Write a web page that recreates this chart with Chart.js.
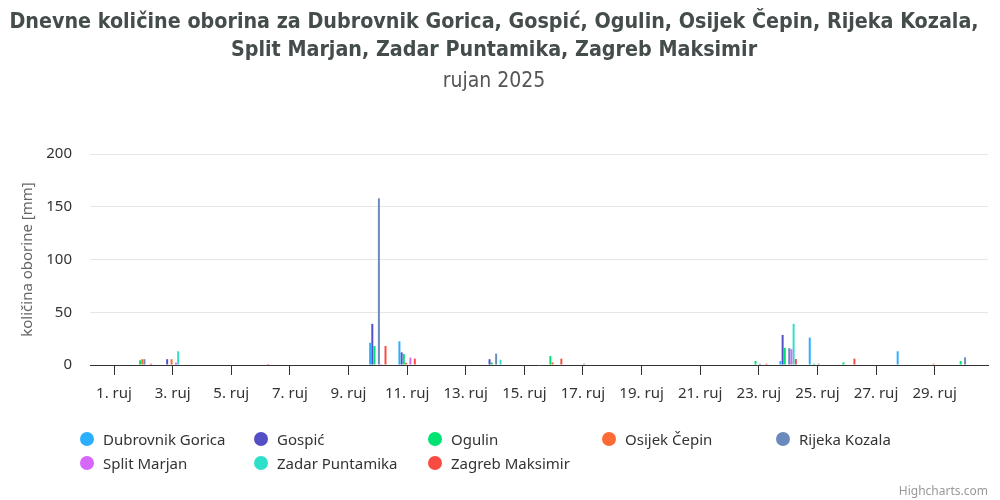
<!DOCTYPE html>
<html>
<head>
<meta charset="utf-8">
<title>Dnevne količine oborina - rujan 2025</title>
<script src="https://cdn.jsdelivr.net/npm/chart.js@4.4.1/dist/chart.umd.min.js"></script>
<style>
body { margin: 0; background: #fff; }
#wrap { position: relative; width: 1000px; height: 500px; }
#legend {
    position: absolute; left: 80px; top: 430px;
    display: grid; grid-template-columns: repeat(5, 174px); row-gap: 6px;
    font: 15px "Noto Sans", sans-serif; color: #333;
}
.item { display: flex; align-items: center; height: 18px; white-space: nowrap; }
.dot { width: 14px; height: 14px; border-radius: 50%; margin-right: 9px; flex: none; }
#credits { position: absolute; right: 12px; top: 482px; font: 12px "Noto Sans", sans-serif; color: #999; }
</style>
</head>
<body>
<div id="wrap">
    <canvas id="myChart" width="1000" height="500"></canvas>
    <div id="legend"></div>
    <div id="credits">Highcharts.com</div>
</div>
<script>
// dani u rujnu 2025
var days = [1, 2, 3, 4, 5, 6, 7, 8, 9, 10, 11, 12, 13, 14, 15, 16, 17, 18, 19, 20, 21, 22, 23, 24, 25, 26, 27, 28, 29, 30]
var tickDays = [1, 3, 5, 7, 9, 11, 13, 15, 17, 19, 21, 23, 25, 27, 29]
var monthShort = "ruj"

var stations = ["Dubrovnik Gorica", "Gospić", "Ogulin", "Osijek Čepin", "Rijeka Kozala", "Split Marjan", "Zadar Puntamika", "Zagreb Maksimir"]
var colors = ["#2caffe", "#544fc5", "#00e272", "#fe6a35", "#6b8abc", "#d568fb", "#2ee0ca", "#fa4b42"]

// oborina [mm] po danima
var dubrovnikGorica = [0, 0, 0, 0, 0, 0, 0, 0, 0, 21, 22.5, 0, 0, 0, 0, 0, 0, 0, 0, 0, 0, 0, 0, 3.8, 26, 0, 0, 13, 0, 0]
var gospic = [0, 0, 5.5, 0, 0, 0, 0, 0, 0, 39, 12, 0, 0, 5.5, 0, 0, 0, 0, 0, 0, 0, 0, 0, 28.5, 0, 0, 0, 0, 0, 0]
var ogulin = [0, 4.5, 0, 0, 0, 0, 0, 0, 0, 18, 10.5, 0, 0, 2.5, 0, 8.5, 0, 0, 0, 0, 0, 0, 3.8, 16.3, 1.2, 2.5, 0, 0, 0, 3.8]
var osijekCepin = [0, 5.5, 5.5, 0, 0, 0, 0, 0, 0, 0, 2.2, 0, 0, 0, 0, 2.5, 0, 0, 0, 0, 0, 0, 0, 0, 0, 0, 0, 0, 1.2, 0]
var rijekaKozala = [0, 5.5, 0, 0, 0, 0, 0, 0, 0, 158, 0, 0, 0, 10.7, 0, 0, 1.2, 0, 0, 0, 0, 0, 1.2, 16, 1.2, 0, 0, 0, 0, 7.2]
var splitMarjan = [0, 0, 2.2, 0, 0, 0, 0, 0, 0, 0.8, 7, 0, 0, 0, 0, 0, 0, 0, 0, 0, 0, 0, 0, 15, 0, 0, 0, 0, 0, 0]
var zadarPuntamika = [0, 0, 13, 0, 0, 0, 0, 0, 0, 0, 0, 0, 0, 5, 0, 0, 0, 0, 0, 0, 0, 0, 0, 39, 0, 0, 0, 0, 0, 0]
var zagrebMaksimir = [0, 1.2, 0, 0, 0, 1, 0, 0, 0, 18, 6, 0, 0, 0, 0, 6, 0, 0, 0, 0, 0, 0, 1.2, 5.7, 0, 6, 0, 0, 0, 0]

var series = [dubrovnikGorica, gospic, ogulin, osijekCepin, rijekaKozala, splitMarjan, zadarPuntamika, zagrebMaksimir]

var labelFont = '"Noto Sans", sans-serif'
var titleFont = '"Liberation Sans Narrow", "DejaVu Sans Condensed", sans-serif'

var datasets = []
for (var i = 0; i < stations.length; i++) {
    var vals = series[i]
    datasets.push({
        label: stations[i],
        data: days.map(function (d, j) { return { x: d, y: vals[j] } }),
        backgroundColor: colors[i],
        borderWidth: 0,
        categoryPercentage: 0.6,
        barPercentage: 0.9,
    })
}

var chartCtx = document.getElementById('myChart')
var myChart = new Chart(chartCtx, {
    type: "bar",
    data: { datasets: datasets },
    options: {
        responsive: false,
        animation: false,
        layout: { padding: { left: 0, right: 12, top: 0, bottom: 87 } },
        plugins: {
            legend: { display: false },
            tooltip: { enabled: false },
            title: {
                display: true,
                text: [
                    "Dnevne količine oborina za Dubrovnik Gorica, Gospić, Ogulin, Osijek Čepin, Rijeka Kozala,",
                    "Split Marjan, Zadar Puntamika, Zagreb Maksimir"
                ],
                color: "#444c4c",
                font: { family: titleFont, size: 21.3, weight: "bold", lineHeight: 1.315 },
                padding: { top: 8, bottom: 5.4 },
            },
            subtitle: {
                display: true,
                text: "rujan 2025",
                color: "#555",
                font: { family: titleFont, size: 21, lineHeight: 1.2 },
                padding: { top: 0, bottom: 59.4 },
            },
        },
        scales: {
            x: {
                type: "linear",
                min: 0.18,
                max: 30.82,
                bounds: "data",
                offset: false,
                afterBuildTicks: function (axis) {
                    axis.ticks = tickDays.map(function (d) { return { value: d } })
                },
                ticks: {
                    autoSkip: false,
                    maxRotation: 0,
                    padding: 10,
                    color: "#333",
                    font: { family: labelFont, size: 15 },
                    callback: function (value) { return value + ". " + monthShort },
                },
                grid: { offset: false, drawOnChartArea: false, drawTicks: true, tickLength: 10, color: "#333" },
                border: { display: true, color: "#333", width: 1 },
            },
            y: {
                min: 0,
                max: 200,
                afterFit: function (scale) { scale.width = 90 },
                ticks: {
                    stepSize: 50,
                    padding: 18,
                    color: "#333",
                    font: { family: labelFont, size: 15 },
                },
                grid: { color: "#e6e6e6", drawTicks: false },
                border: { display: false },
                title: {
                    display: true,
                    text: "količina oborine [mm]",
                    color: "#666",
                    font: { family: labelFont, size: 15 },
                    padding: { top: 18.5, bottom: 0 },
                },
            },
        },
    },
})

// legenda u stupcima kao na originalu
var legendEl = document.getElementById("legend")
for (var k = 0; k < stations.length; k++) {
    var itemEl = document.createElement("div")
    itemEl.classList.add("item")
    var dotEl = document.createElement("span")
    dotEl.classList.add("dot")
    dotEl.style.background = colors[k]
    itemEl.appendChild(dotEl)
    itemEl.appendChild(document.createTextNode(stations[k]))
    legendEl.appendChild(itemEl)
}
</script>
</body>
</html>
